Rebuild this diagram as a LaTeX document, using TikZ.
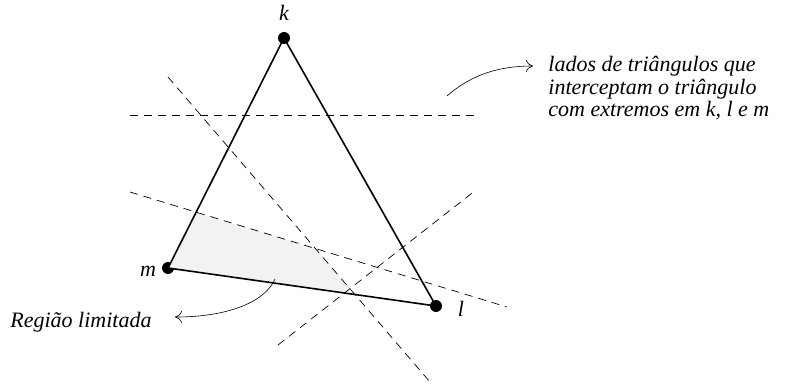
\documentclass[tikz,border=0pt]{standalone}
\usepackage{fontspec}
\setmainfont{Liberation Serif}
\usetikzlibrary{arrows.meta}
\begin{document}
\begin{tikzpicture}[x=1pt, y=-1pt, line width=.8pt]
\tikzset{
  cut/.style={dash pattern=on 8pt off 6pt, line width=.7pt},
  side/.style={line width=1.6pt},
  vtx/.style={circle, fill, inner sep=0pt, minimum size=12pt},
  lbl/.style={font=\itshape\fontsize{22}{22.5}\selectfont, inner sep=0pt},
  note/.style={-{To[length=7pt, width=12pt]}, line width=.6pt}
}
\useasboundingbox (0,0) rectangle (787,390);
% vertices
\node[vtx] (k) at (284,38) {};
\node[vtx] (m) at (168,268) {};
\node[vtx] (l) at (436,306) {};
% cutting lines
\coordinate (a1) at (130,115); \coordinate (a2) at (477,115);
\coordinate (b1) at (168,77);  \coordinate (b2) at (430,382);
\coordinate (c1) at (130,192); \coordinate (c2) at (507,307);
\coordinate (d1) at (278,345); \coordinate (d2) at (476,190);
% bounded region
\fill[gray!10] (m.center) -- (intersection of m--k and c1--c2)
  -- (intersection of c1--c2 and b1--b2) -- (intersection of b1--b2 and d1--d2)
  -- (intersection of d1--d2 and m--l) -- cycle;
\draw[cut] (a1) -- (a2);
\draw[cut] (b1) -- (b2);
\draw[cut] (c1) -- (c2);
\draw[cut] (d1) -- (d2);
\draw[side] (k.center) -- (l.center) -- (m.center) -- cycle;
% labels
\node[lbl] (lk) at (284,13) {k};
\node[lbl] (lm) at (148,271) {m};
\node[lbl] (ll) at (461,309) {l};
\node[lbl, anchor=base west, align=left] (txt) at (548,117)
  {lados de triângulos que\\interceptam o triângulo\\com extremos em k, l e m};
\node[lbl, anchor=base west] (reg) at (10,327) {Região limitada};
% pointers
\coordinate (s1) at (447,96);  \coordinate (e1) at (533,66);
\coordinate (s2) at (275,279); \coordinate (e2) at (175,317);
\draw[note] (s1) .. controls (472,74) and (500,66) .. (e1);
\draw[note] (s2) .. controls (266,300) and (232,317) .. (e2);
\end{tikzpicture}
\end{document}
